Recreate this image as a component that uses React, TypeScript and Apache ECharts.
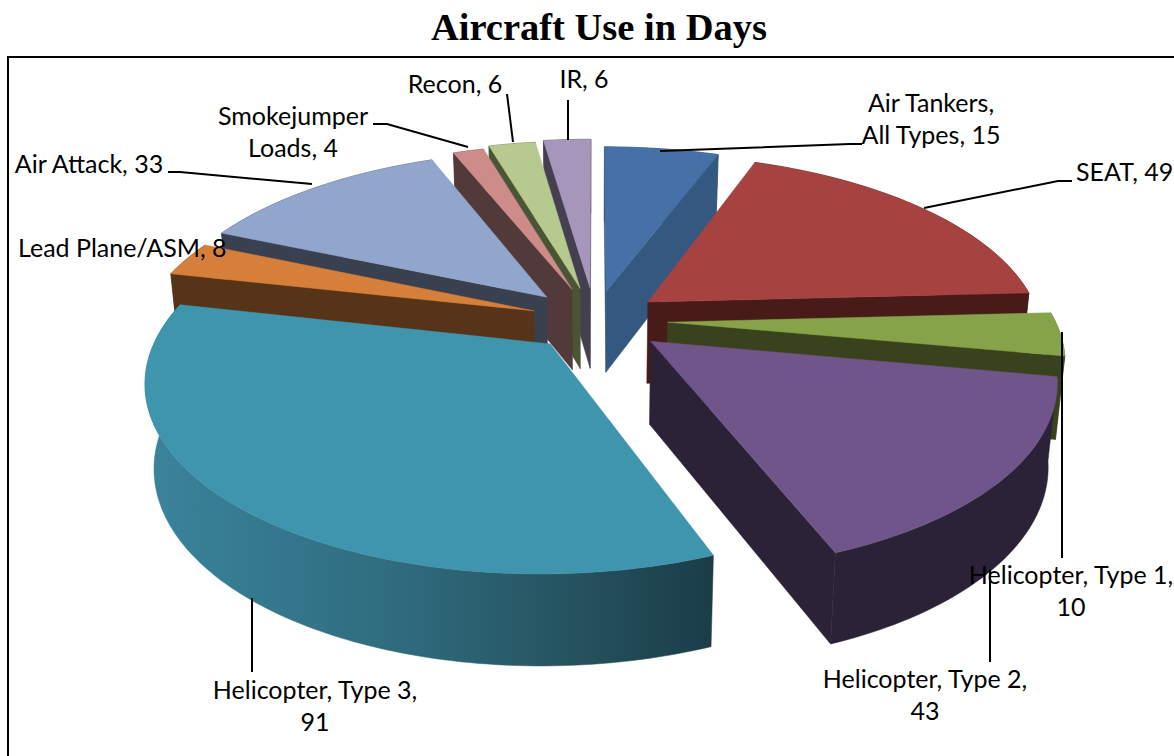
import React, { useEffect, useRef } from "react";
import * as echarts from "echarts";

const titleText = "Aircraft Use in Days";
const categories = ["Air Tankers, All Types", "SEAT", "Helicopter, Type 1", "Helicopter, Type 2", "Helicopter, Type 3", "Lead Plane/ASM", "Air Attack", "Smokejumper Loads", "Recon", "IR"];
const days = [15, 49, 10, 43, 91, 8, 33, 4, 6, 6];
const topColors = ["#4571a6", "#a64341", "#86a34a", "#70558a", "#4095ae", "#d67f3b", "#91a6cd", "#cd8c8a", "#b6c98f", "#a696bb"];
const faceColors = ["#345880", "#471b18", "#38421c", "#2c2238", "#2c6a7d", "#563418", "#39404f", "#533a3a", "#4b5536", "#45404f"];
const wallColors = ["#345880", "#471b18", "#4f6a2a", "#2c2238", "", "#563418", "#39404f", "#533a3a", "#4b5536", "#45404f"];
const paintOrder = [0, 9, 8, 7, 6, 1, 5, 2, 3, 4];
const explodeBy = [0.165, 0.17, 0.185, 0.18, 0.17, 0.165, 0.18, 0.185, 0.185, 0.185];
const radiusBy = [1, 1, 0.985, 0.99, 0.985, 1, 1, 1.01, 1.03, 1.04];

const CX = 595, CY = 320, RX = 393, RY = 181, PERSP = 0.185, HEIGHT = 82;
const total = days.reduce((a, b) => a + b, 0);
const starts: number[] = [];
days.reduce((acc, d, i) => { starts[i] = acc; return acc + d; }, 0);

function project(u: number, v: number, low: boolean): number[] {
  const s = 1 / (1 - PERSP * v);
  const k = low ? 0.98 : 1;
  return [CX + RX * u * s * k, CY + RY * v * s + (low ? HEIGHT * Math.sqrt(s) : 0)];
}

function renderSlice(params: any, api: any) {
  const i = api.value(0) as number;
  const a0 = (starts[i] / total) * Math.PI * 2;
  const a1 = ((starts[i] + days[i]) / total) * Math.PI * 2;
  const mid = (a0 + a1) / 2;
  const ex = explodeBy[i], r = radiusBy[i];
  const ox = ex * Math.sin(mid), oy = -ex * Math.cos(mid);
  const rim = (a: number, low: boolean) => project(ox + r * Math.sin(a), oy - r * Math.cos(a), low);
  const apexT = project(ox, oy, false), apexB = project(ox, oy, true);
  const steps = Math.max(6, Math.ceil((a1 - a0) / 0.02));
  const top: number[][] = [], bot: number[][] = [];
  for (let k = 0; k <= steps; k++) {
    const a = a0 + ((a1 - a0) * k) / steps;
    top.push(rim(a, false));
    bot.push(rim(a, true));
  }
  const wallFill = wallColors[i] || new echarts.graphic.LinearGradient(0, 0, 1, 0, [
    { offset: 0, color: "#3a849c" },
    { offset: 0.45, color: "#2f6b7e" },
    { offset: 0.75, color: "#25535f" },
    { offset: 1, color: "#1a3d48" },
  ]);
  const poly = (points: number[][], fill: any) => ({
    type: "polygon", shape: { points }, style: { fill, stroke: fill, lineWidth: 0.5 },
  });
  const midRim = rim(mid, false);
  const faceShows = (end: number[]) => {
    const ex2 = end[0] - apexT[0], ey2 = end[1] - apexT[1];
    const toDown = ex2;
    const toMid = ex2 * (midRim[1] - apexT[1]) - ey2 * (midRim[0] - apexT[0]);
    return toDown * toMid < 0;
  };
  const faces: any[] = [];
  if (faceShows(top[0])) faces.push(poly([apexT, top[0], bot[0], apexB], faceColors[i]));
  if (faceShows(top[steps])) faces.push(poly([apexT, top[steps], bot[steps], apexB], faceColors[i]));
  return {
    type: "group",
    children: [
      poly([...top, ...bot.slice().reverse()], wallFill),
      ...faces,
      poly([apexT, ...top], topColors[i]),
    ],
  };
}

const lbl = (i: number) => `${categories[i]}, ${days[i]}`;
const labelLayout: { text: string; x: number; y: number; align?: string }[] = [
  { text: "Air Tankers,\nAll Types, " + days[0], x: 931, y: 118 },
  { text: lbl(1), x: 1076, y: 171, align: "left" },
  { text: "Helicopter, Type 1,\n" + days[2], x: 1071, y: 590 },
  { text: "Helicopter, Type 2,\n" + days[3], x: 925, y: 694 },
  { text: "Helicopter, Type 3,\n" + days[4], x: 315, y: 705 },
  { text: lbl(5), x: 18, y: 247, align: "left" },
  { text: lbl(6), x: 89, y: 163 },
  { text: "Smokejumper\nLoads, " + days[7], x: 293, y: 131 },
  { text: lbl(8), x: 455, y: 83 },
  { text: lbl(9), x: 584, y: 78 },
];
const leaderLines: number[][][] = [
  [[660, 151], [850, 144], [862, 144]],
  [[924, 208], [1058, 181], [1072, 181]],
  [[1062, 332], [1062, 558]],
  [[990, 570], [990, 662]],
  [[252, 598], [252, 672]],
  [[168, 172], [180, 172], [312, 184]],
  [[373, 124], [387, 124], [468, 147]],
  [[507, 94], [513, 142]],
  [[568, 100], [568, 140]],
];

export default function App() {
  const ref = useRef<HTMLDivElement>(null);
  useEffect(() => {
    const chart = echarts.init(ref.current!, undefined, { renderer: "svg" });
    chart.setOption({
      animation: false,
      backgroundColor: "#ffffff",
      title: {
        text: titleText, left: 594, top: 2, textAlign: "center",
        textStyle: { fontFamily: "'Liberation Serif'", fontWeight: "bold", fontSize: 38.5, color: "#000" },
      },
      series: [{
        type: "custom",
        coordinateSystem: "none",
        renderItem: renderSlice,
        data: paintOrder.map((i) => ({ name: categories[i], value: [i, days[i]] })),
      }],
      graphic: [
        { type: "polyline", z: 100, shape: { points: [[8, 756], [8, 57], [1174, 57]] }, style: { stroke: "#000", lineWidth: 2, fill: "none" } },
        ...leaderLines.map((points) => ({
          type: "polyline", z: 100, shape: { points }, style: { stroke: "#000", lineWidth: 2, fill: "none" },
        })),
        ...labelLayout.map((l) => ({
          type: "text", z: 101, x: l.x, y: l.y,
          style: {
            text: l.text, fill: "#000", font: "25px Lato", lineHeight: 32,
            align: l.align || "center", verticalAlign: "middle",
          },
        })),
      ],
    });
    return () => chart.dispose();
  }, []);
  return <div ref={ref} style={{ position: "absolute", left: 0, top: 0, width: 1174, height: 756, overflow: "hidden" }} />;
}
